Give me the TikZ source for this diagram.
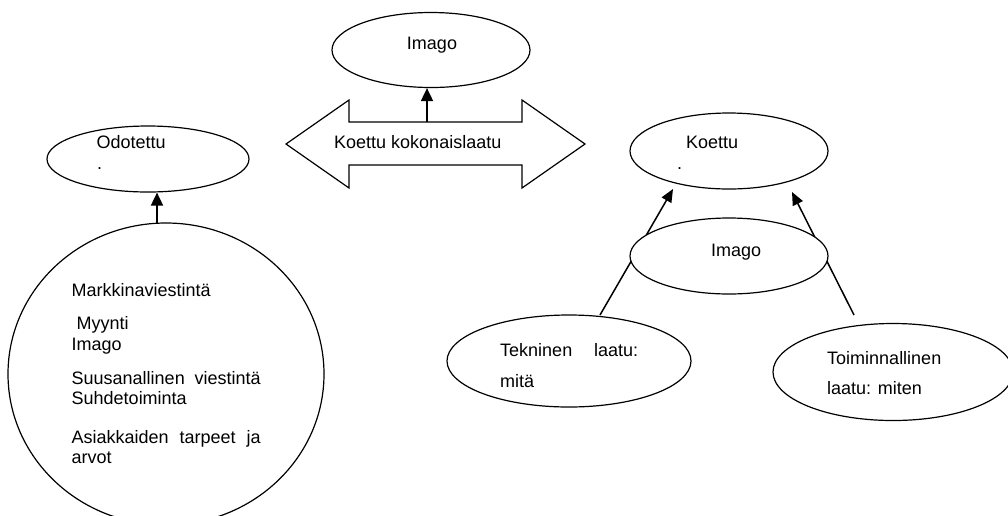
\documentclass[tikz,border=0pt]{standalone}
\usepackage{fontspec}
\setmainfont{Liberation Sans}
\usetikzlibrary{arrows.meta,shapes.geometric}
\begin{document}
\begin{tikzpicture}[x=1pt,y=-1pt,
  outl/.style={draw=black,line width=1.2pt,fill=white},
  oval/.style={outl,ellipse,inner sep=0pt},
  lbl/.style={font=\fontsize{18}{21}\selectfont,inner sep=0pt,anchor=base west},
  arr/.style={draw=black,line width=1.8pt,-{Triangle[length=13pt,width=12pt]}},
  arrk/.style={draw=black,line width=1.5pt,-{Triangle[length=13pt,width=11pt]}}]
\useasboundingbox (0,0) rectangle (1008,515);
\clip (0,0) rectangle (1008,515);

% ---- left: Odotettu ----
\node[oval,minimum width=202pt,minimum height=66pt] (odot) at (148,159) {};
\node[lbl] (odott) at (96.5,148) {Odotettu};
\node[lbl] (odotdot) at (97,169) {.};
\node[oval,minimum width=316pt,minimum height=302pt] (circ) at (166,374) {};
\coordinate (circtop) at (157,223);
\draw[arr] (circtop) -- (circtop |- odot.south);
\node[lbl] (t1) at (71.5,296) {Markkinaviestintä};
\node[lbl] (t2) at (71.5,329) {\ Myynti};
\node[lbl] (t3) at (71.5,350) {Imago};
\node[lbl] (t4) at (71.5,384) {\makebox[189pt][s]{Suusanallinen viestintä}};
\node[lbl] (t5) at (71.5,404) {Suhdetoiminta};
\node[lbl] (t6) at (71.5,443) {\makebox[189pt][s]{Asiakkaiden tarpeet ja}};
\node[lbl] (t7) at (71.5,463) {arvot};

% ---- centre: Imago + double arrow ----
\node[oval,minimum width=198pt,minimum height=75pt] (imtop) at (431,50) {};
\node[lbl,anchor=base] (imtopt) at (432,49) {Imago};
\draw[outl] (286,144) coordinate (dl) -- (349,100) -- (349,122) coordinate (sl)
  -- (522,122) -- (522,100) -- (585,144) coordinate (dr) -- (522,188) -- (522,165)
  -- (349,165) -- (349,188) -- cycle;
\node[lbl] (kok) at (334,148) {Koettu kokonaislaatu};
\coordinate (shafttop) at (427,122);
\draw[arr] (shafttop) -- (shafttop |- imtop.south);

% ---- right: Koettu ----
\node[oval,minimum width=198pt,minimum height=76pt] (koet) at (729,151) {};
\node[lbl] (koett) at (686,148) {Koettu};
\node[lbl] (koetdot) at (677,169) {.};
\coordinate (tekTop) at (600,315);
\coordinate (toimTop) at (854,315);
\coordinate (tipL) at (673,189);
\coordinate (tipR) at (792,192);
\draw[arrk] (tekTop) -- (tipL);
\draw[arrk] (toimTop) -- (tipR);
\node[oval,minimum width=198pt,minimum height=76pt] (immid) at (729,256) {};
\node[lbl] (immidt) at (711,256) {Imago};
\node[oval,minimum width=244pt,minimum height=92pt] (tek) at (569,361) {};
\node[lbl] (tekt1) at (500,356) {\makebox[138pt][s]{Tekninen laatu:}};
\node[lbl] (tekt2) at (500,387) {mitä};
\node[oval,minimum width=240pt,minimum height=97pt] (toim) at (893,372) {};
\node[lbl] (toimt1) at (827,364) {Toiminnallinen};
\node[lbl] (toimt2) at (827,394) {laatu: miten};
\end{tikzpicture}
\end{document}
